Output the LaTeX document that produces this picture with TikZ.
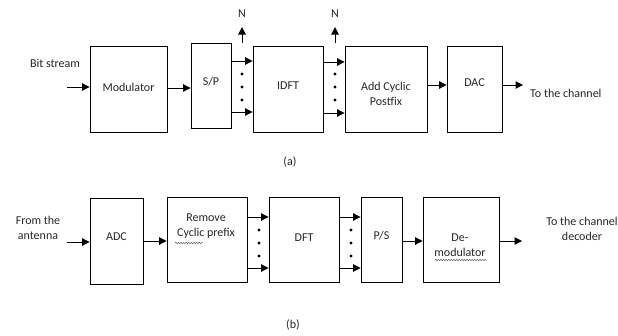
\documentclass[tikz,border=0pt]{standalone}
\usepackage{fontspec}
\setmainfont{Carlito}
\usetikzlibrary{arrows.meta,decorations.pathmorphing}
\begin{document}
\begin{tikzpicture}[x=1pt,y=-1pt,
  blk/.style={draw=black,line width=0.9pt,inner sep=0pt},
  txt/.style={font=\fontsize{12}{15}\selectfont,inner sep=0pt,align=center,text=black!85},
  arr/.style={line width=1pt,-{Triangle[length=7.5pt,width=7.5pt]}},
  wavy/.style={draw=black!60,line width=0.5pt,decorate,decoration={snake,amplitude=0.8pt,segment length=2.6pt}},
  dotm/.style={fill=black}
]
\useasboundingbox (0,0) rectangle (618,335);

% ---------------- transmitter (a) ----------------
\node[blk,minimum width=77pt,minimum height=86pt] (mod) at (128.5,89) {};
\node[blk,minimum width=40pt,minimum height=85pt] (sp) at (211,85.5) {};
\node[blk,minimum width=70pt,minimum height=86pt] (idft) at (288,89) {};
\node[blk,minimum width=82pt,minimum height=86pt] (acp) at (386,89) {};
\node[blk,minimum width=55pt,minimum height=86pt] (dac) at (474.5,89) {};

\node[txt] (modT) at (128.5,87) {Modulator};
\node[txt] (spT) at (211,82) {S/P};
\node[txt] (idftT) at (288,86) {IDFT};
\node[txt] (acpT) at (386,93.5) {Add Cyclic\\Postfix};
\node[txt] (dacT) at (474.5,83) {DAC};
\node[txt] (bits) at (55,63) {Bit stream};
\node[txt,anchor=west] (chan) at (530,93) {To the channel};
\node[txt] (N1) at (242,14) {N};
\node[txt] (N2) at (335,14) {N};
\node[txt] (capA) at (290,162) {(a)};

\coordinate (inA) at (67,87);
\draw[arr] (inA) -- (mod.west |- inA);
\draw[arr] (mod.east |- 0,88) -- (sp.west |- 0,88);
\draw[arr] (sp.east |- 0,61) -- (idft.west |- 0,61);
\draw[arr] (sp.east |- 0,112) -- (idft.west |- 0,112);
\draw[arr] (idft.east |- 0,62) -- (acp.west |- 0,62);
\draw[arr] (idft.east |- 0,113) -- (acp.west |- 0,113);
\draw[arr] (acp.east |- 0,85) -- (dac.west |- 0,85);
\coordinate (outA) at (523,85);
\draw[arr] (dac.east |- outA) -- (outA);

\coordinate (n1a) at (242,43);
\coordinate (n1b) at (242,27);
\draw[arr] (n1a) -- (n1b);
\coordinate (n2a) at (335,43);
\coordinate (n2b) at (335,27);
\draw[arr] (n2a) -- (n2b);

\foreach \yy in {74,87,100} {
  \fill[dotm] (242,\yy) circle (1.7pt);
  \fill[dotm] (335,\yy) circle (1.7pt);
}

% ---------------- receiver (b) ----------------
\node[blk,minimum width=53pt,minimum height=86pt] (adc) at (116.5,241) {};
\node[blk,minimum width=80pt,minimum height=85pt] (rcp) at (207,239.5) {};
\node[blk,minimum width=70pt,minimum height=85pt] (dft) at (304,239.5) {};
\node[blk,minimum width=41pt,minimum height=85pt] (ps) at (381.5,239.5) {};
\node[blk,minimum width=76pt,minimum height=85pt] (dem) at (461,239.5) {};

\node[txt] (adcT) at (116.5,237) {ADC};
\node[txt] (rcpT) at (206,226.5) {Remove\\Cyclic prefix};
\node[txt] (dftT) at (304,238) {DFT};
\node[txt] (psT) at (381.5,236) {P/S};
\node[txt] (demT) at (460,245) {De-\\modulator};
\node[txt] (ant) at (38,228) {From the\\antenna};
\node[txt] (dec) at (582,229) {To the channel\\decoder};
\node[txt] (capB) at (293,325) {(b)};

% spelling marks under two words
\draw[wavy] (175,243) -- (203,243);
\draw[wavy] (435,260) -- (487,260);

\coordinate (inB) at (67,242);
\draw[arr] (inB) -- (adc.west |- inB);
\draw[arr] (adc.east |- 0,241) -- (rcp.west |- 0,241);
\draw[arr] (rcp.east |- 0,217) -- (dft.west |- 0,217);
\draw[arr] (rcp.east |- 0,268) -- (dft.west |- 0,268);
\draw[arr] (dft.east |- 0,217) -- (ps.west |- 0,217);
\draw[arr] (dft.east |- 0,268) -- (ps.west |- 0,268);
\draw[arr] (ps.east |- 0,241) -- (dem.west |- 0,241);
\coordinate (outB) at (522,241);
\draw[arr] (dem.east |- outB) -- (outB);

\foreach \yy in {230,243,256} {
  \fill[dotm] (259,\yy) circle (1.7pt);
  \fill[dotm] (351,\yy) circle (1.7pt);
}
\end{tikzpicture}
\end{document}
